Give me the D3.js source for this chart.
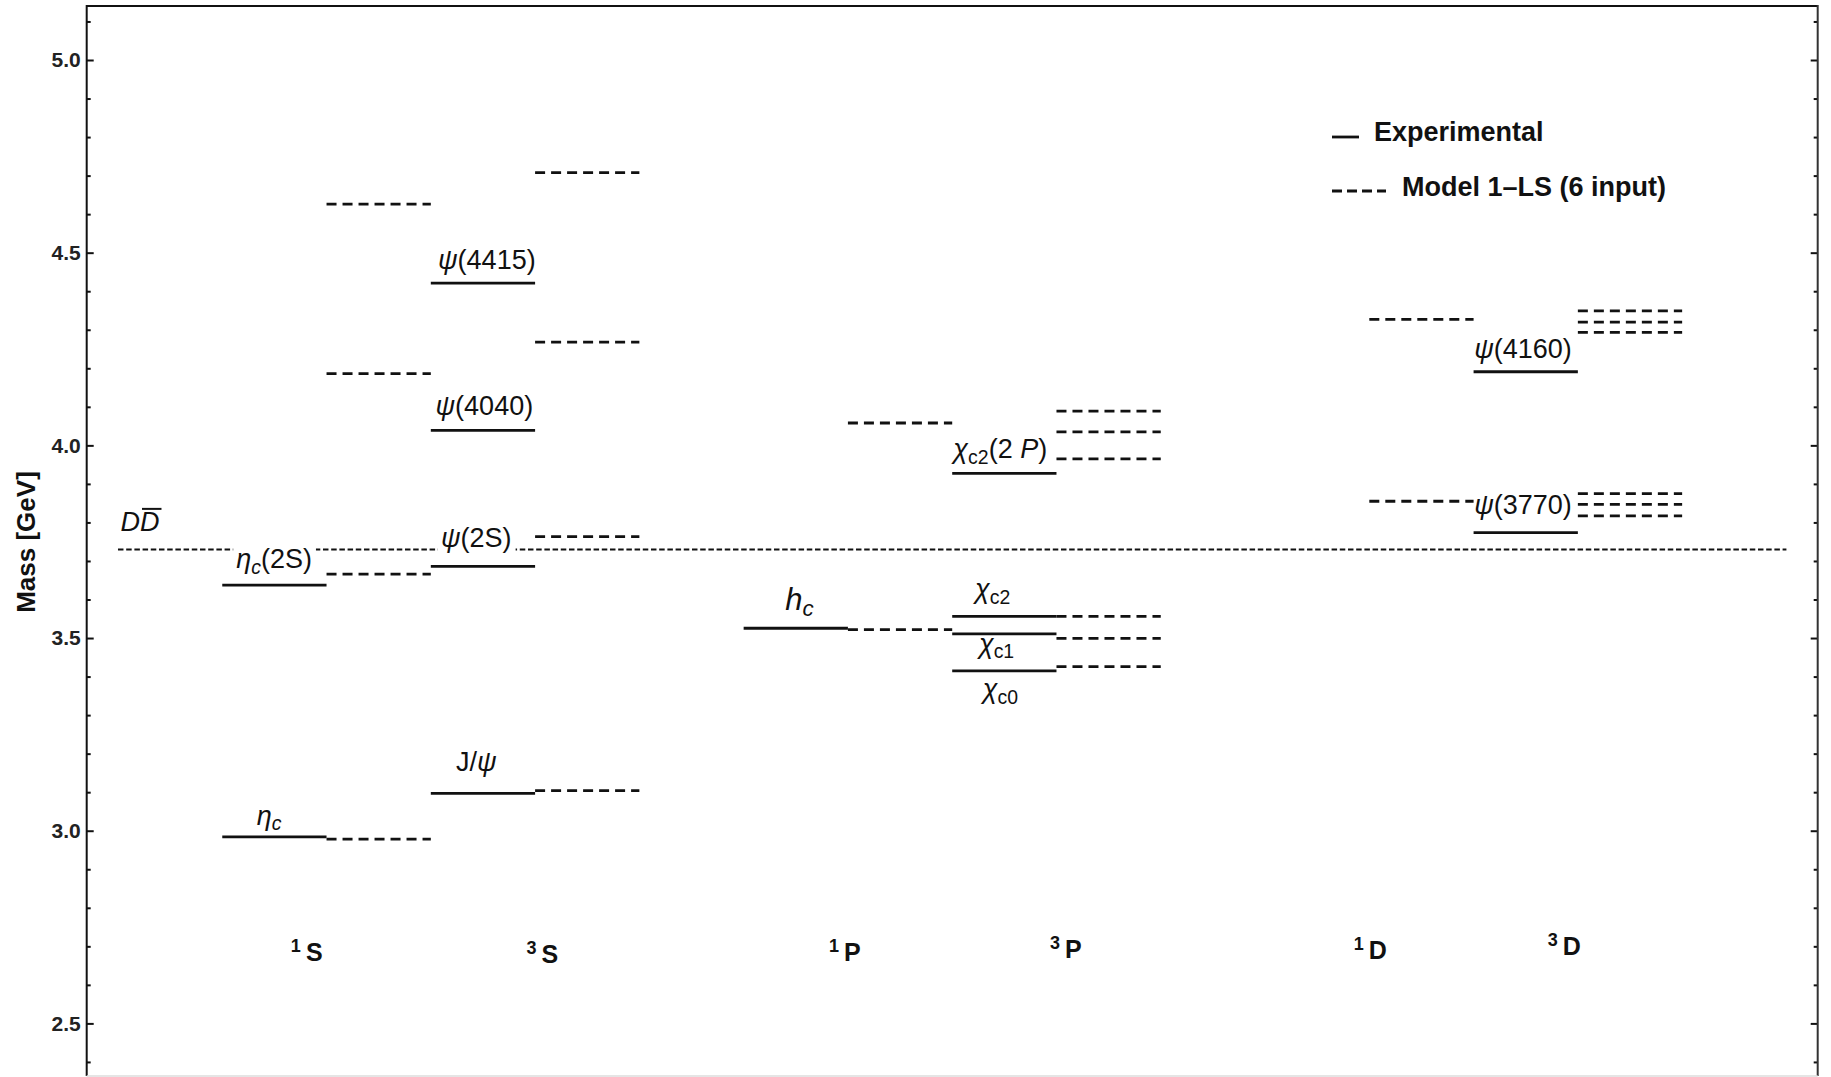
<!DOCTYPE html>
<html>
<head>
<meta charset="utf-8">
<script src="https://cdn.jsdelivr.net/npm/d3@7"></script>
<style>
  html, body { margin: 0; padding: 0; background: #fff; }
  svg { display: block; font-family: "Liberation Sans", Arial, sans-serif; }
</style>
</head>
<body>
<svg id="chart" width="1831" height="1077"></svg>
<script>
// ---- charmonium level scheme -------------------------------------------

// multiplets along the horizontal axis (spin multiplicity, orbital letter)
const multipletSpin = ["1", "3", "1", "3", "1", "3"];
const multipletWave = ["S", "S", "P", "P", "D", "D"];
// left edge (plot units) of each multiplet's experimental slot; model slot follows
const slotStart = [1, 3, 6, 8, 11, 13];
// anchor of each multiplet name (plot units, GeV)
const multipletLabelX = [1.81, 4.07, 6.97, 9.09, 12.01, 13.87];
const multipletLabelY = [2.661, 2.658, 2.661, 2.670, 2.668, 2.677];

// measured masses, GeV
const experimental = [
  [2.9839, 3.6375],
  [3.0969, 3.6861, 4.039, 4.421],
  [3.5254],
  [3.4147, 3.5107, 3.5562, 3.9272],
  [],
  [3.7737, 4.191]
];

// Model 1-LS (6 input) predictions, GeV
const model = [
  [2.978, 3.666, 4.186, 4.626],
  [3.104, 3.763, 4.268, 4.708],
  [3.522, 4.058],
  [3.426, 3.499, 3.556, 3.965, 4.035, 4.089],
  [3.855, 4.327],
  [3.817, 3.847, 3.875, 4.293, 4.320, 4.349]
];

// open-charm threshold, 2 m(D)
const thresholdMass = 3.7297;
const thresholdFrom = 0;
const thresholdTo = 16;
const thresholdLabel = "*D~D~*";
const thresholdLabelX = 0.211;
const thresholdLabelY = 3.777;

// state names: *..* italic, _.._ subscript, ~..~ overline
const stateNames = [
  "*η*_*c*_", "*η*_*c*_(2S)",
  "J/*ψ*", "*ψ*(2S)", "*ψ*(4040)", "*ψ*(4415)",
  "*h*_*c*_",
  "*χ*_c0_", "*χ*_c1_", "*χ*_c2_", "*χ*_c2_(2 *P*)",
  "*ψ*(3770)", "*ψ*(4160)"
];
const stateLabelX = [1.449, 1.497, 3.436, 3.436, 3.513, 3.537, 6.536, 8.463, 8.425, 8.389, 8.461, 13.474, 13.474];
const stateLabelY = [3.016, 3.681, 3.155, 3.737, 4.080, 4.458, 3.5726, 3.344, 3.4618, 3.6035, 3.966, 3.822, 4.226];

// axis
const majorTicks = [2.5, 3.0, 3.5, 4.0, 4.5, 5.0];
const majorTickLabels = ["2.5", "3.0", "3.5", "4.0", "4.5", "5.0"];
const axisTitle = "Mass [GeV]";

// legend
const legendLabels = ["Experimental", "Model 1\u2013LS (6 input)"];

// ---- drawing ------------------------------------------------------------

const svg = d3.select("#chart");
const W = 1831, H = 1077;
const frame = { left: 86.7, right: 1817.7, top: 6, bottom: 1076 };

const x = d3.scaleLinear().domain([-0.3, 16.3]).range([frame.left, frame.right]);
const y = d3.scaleLinear().domain([2.5, 5.0]).range([1023.4, 60]);

const INK = "#111";
const LEVEL_W = 2.8;
const LEVEL_DASH = "10,6";

svg.append("rect").attr("width", W).attr("height", H).attr("fill", "#fff");

// minor ticks every 0.1 GeV inside the frame
const yTop = y.invert(frame.top), yBot = y.invert(frame.bottom);
const minorTicks = d3.range(Math.ceil(yBot * 10), Math.floor(yTop * 10) + 1)
  .map(i => i / 10)
  .filter(v => !majorTicks.some(m => Math.abs(m - v) < 1e-6));

function styleAxis(g) {
  g.select(".domain").remove();
  g.selectAll(".tick line").attr("stroke", INK).attr("stroke-width", 2);
}

// left axis: major ticks with labels
const leftMajor = d3.axisLeft(y)
  .tickValues(majorTicks)
  .tickFormat((d, i) => majorTickLabels[i])
  .tickSizeInner(-7).tickSizeOuter(0).tickPadding(6);
svg.append("g").attr("transform", `translate(${frame.left},0)`).call(leftMajor)
  .call(styleAxis)
  .call(g => g.selectAll("text")
    .attr("font-family", "Liberation Sans, Arial, sans-serif")
    .attr("font-size", 21).attr("font-weight", "bold").attr("fill", "#222"));
svg.append("g").attr("transform", `translate(${frame.left},0)`)
  .call(d3.axisLeft(y).tickValues(minorTicks).tickFormat("").tickSizeInner(-4).tickSizeOuter(0))
  .call(styleAxis);

// right axis: ticks only
svg.append("g").attr("transform", `translate(${frame.right},0)`)
  .call(d3.axisRight(y).tickValues(majorTicks).tickFormat("").tickSizeInner(-7).tickSizeOuter(0))
  .call(styleAxis);
svg.append("g").attr("transform", `translate(${frame.right},0)`)
  .call(d3.axisRight(y).tickValues(minorTicks).tickFormat("").tickSizeInner(-4).tickSizeOuter(0))
  .call(styleAxis);

// frame
svg.append("line").attr("x1", frame.left).attr("x2", frame.right)
  .attr("y1", frame.top).attr("y2", frame.top).attr("stroke", INK).attr("stroke-width", 2);
svg.append("line").attr("x1", frame.left).attr("x2", frame.left)
  .attr("y1", frame.top - 1).attr("y2", frame.bottom).attr("stroke", INK).attr("stroke-width", 2);
svg.append("line").attr("x1", frame.right).attr("x2", frame.right)
  .attr("y1", frame.top - 1).attr("y2", frame.bottom).attr("stroke", "#333").attr("stroke-width", 2);
svg.append("line").attr("x1", frame.left).attr("x2", frame.right)
  .attr("y1", frame.bottom).attr("y2", frame.bottom).attr("stroke", "#ddd").attr("stroke-width", 1.5);

// axis title
svg.append("text")
  .attr("transform", `translate(35,542) rotate(-90)`)
  .attr("text-anchor", "middle")
  .attr("font-size", 26).attr("font-weight", "bold").attr("fill", "#111")
  .text(axisTitle);

// energy levels
const levels = svg.append("g");
multipletWave.forEach((_, i) => {
  const s = slotStart[i];
  levels.selectAll(null).data(experimental[i]).enter().append("line")
    .attr("x1", x(s)).attr("x2", x(s + 1))
    .attr("y1", d => y(d)).attr("y2", d => y(d))
    .attr("stroke", INK).attr("stroke-width", LEVEL_W);
  levels.selectAll(null).data(model[i]).enter().append("line")
    .attr("x1", x(s + 1)).attr("x2", x(s + 2))
    .attr("y1", d => y(d)).attr("y2", d => y(d))
    .attr("stroke", INK).attr("stroke-width", LEVEL_W)
    .attr("stroke-dasharray", LEVEL_DASH);
});

// D Dbar threshold
svg.append("line")
  .attr("x1", x(thresholdFrom)).attr("x2", x(thresholdTo))
  .attr("y1", y(thresholdMass)).attr("y2", y(thresholdMass))
  .attr("stroke", INK).attr("stroke-width", 2.2).attr("stroke-dasharray", "5.5,2.7");

// rich-text helper for the small markup used in the names
function rich(textSel, markup, size) {
  let italic = false, sub = false, over = false, buf = "";
  const segs = [];
  const flush = () => { if (buf) { segs.push({ t: buf, italic, sub, over }); buf = ""; } };
  for (const ch of markup) {
    if (ch === "*") { flush(); italic = !italic; }
    else if (ch === "_") { flush(); sub = !sub; }
    else if (ch === "~") { flush(); over = !over; }
    else buf += ch;
  }
  flush();
  let prevSub = false, idx = 0;
  const overRuns = [];
  const shift = size * 0.2;
  segs.forEach(s => {
    const ts = textSel.append("tspan").text(s.t)
      .attr("font-style", s.italic ? "italic" : "normal")
      .attr("font-size", s.sub ? size * 0.72 : size);
    if (s.sub && !prevSub) ts.attr("dy", shift);
    if (!s.sub && prevSub) ts.attr("dy", -shift);
    prevSub = s.sub;
    if (s.over) overRuns.push([idx, idx + s.t.length - 1]);
    idx += s.t.length;
  });
  return overRuns;
}

const labelLayer = svg.append("g");
const tY = y(thresholdMass);

function placeLabel(markup, px, py, size) {
  const g = labelLayer.append("g");
  const t = g.append("text")
    .attr("x", px).attr("y", py)
    .attr("text-anchor", "middle")
    .attr("fill", "#111");
  const overRuns = rich(t, markup, size);
  const node = t.node();
  overRuns.forEach(([a, b]) => {
    const p0 = node.getStartPositionOfChar(a);
    const p1 = node.getEndPositionOfChar(b);
    g.append("line")
      .attr("x1", p0.x + 2).attr("x2", p1.x + 2)
      .attr("y1", py - size * 0.83).attr("y2", py - size * 0.83)
      .attr("stroke", "#111").attr("stroke-width", 2);
  });
  // names that sit on the threshold line get a white backing
  const bb = node.getBBox();
  if (bb.y < tY && bb.y + bb.height > tY) {
    g.insert("rect", "text")
      .attr("x", bb.x - 3).attr("y", bb.y)
      .attr("width", bb.width + 7).attr("height", bb.height)
      .attr("fill", "#fff");
  }
}

stateNames.forEach((name, i) => {
  const size = name.startsWith("*h*") ? 31 : 27;
  placeLabel(name, x(stateLabelX[i]), y(stateLabelY[i]), size);
});
placeLabel(thresholdLabel, x(thresholdLabelX), y(thresholdLabelY), 27);

// multiplet names, e.g. ¹S
multipletWave.forEach((w, i) => {
  const t = svg.append("text")
    .attr("x", x(multipletLabelX[i])).attr("y", y(multipletLabelY[i]))
    .attr("text-anchor", "middle")
    .attr("font-weight", "bold").attr("fill", "#111");
  t.append("tspan").text(multipletSpin[i]).attr("font-size", 18).attr("dy", -9);
  t.append("tspan").text(w).attr("font-size", 25).attr("dy", 9).attr("dx", 5);
});

// legend
const legend = svg.append("g");
legend.append("line").attr("x1", 1332).attr("x2", 1359).attr("y1", 137).attr("y2", 137)
  .attr("stroke", INK).attr("stroke-width", 2.8);
legend.append("line").attr("x1", 1332).attr("x2", 1386).attr("y1", 191).attr("y2", 191)
  .attr("stroke", INK).attr("stroke-width", 2.8).attr("stroke-dasharray", "10,5");
legend.selectAll(null).data(legendLabels).enter().append("text")
  .attr("x", (d, i) => i === 0 ? 1374 : 1402)
  .attr("y", (d, i) => i === 0 ? 141 : 196)
  .attr("font-size", 27).attr("font-weight", "bold").attr("fill", "#111")
  .text(d => d);
</script>
</body>
</html>
